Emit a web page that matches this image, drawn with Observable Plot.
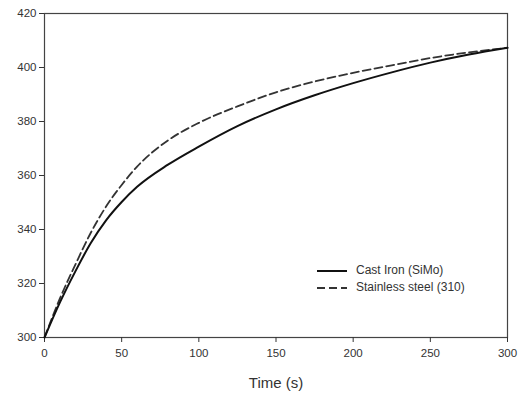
<!DOCTYPE html>
<html><head><meta charset="utf-8">
<script src="https://cdn.jsdelivr.net/npm/d3@7"></script>
<script src="https://cdn.jsdelivr.net/npm/@observablehq/plot@0.6"></script>
<style>
body{margin:0;background:#fff;font-family:"Liberation Sans",Arial,sans-serif}
#wrap{position:relative;width:519px;height:395px}
#legend{position:absolute;left:316px;top:262px;font-size:12px;color:#333;line-height:17px}
#legend div{display:flex;align-items:center;white-space:nowrap}
#legend svg{margin-right:8px}
</style>
</head><body><div id="wrap"></div>
<script>
const time      = [0, 10, 20, 30, 40, 50, 60, 80, 100, 125, 150, 175, 200, 225, 250, 275, 300];
const castIron  = [300, 313, 324.5, 335, 343.5, 350.2, 355.8, 364, 370.7, 378.3, 384.5, 389.7, 394.2, 398.2, 401.8, 404.8, 407.3];
const stainless = [300, 314.5, 327, 338.8, 348.6, 356.5, 363.3, 373, 379.5, 385.6, 390.8, 394.8, 398, 400.8, 403.5, 405.6, 407.3];
const seriesNames = ["Cast Iron (SiMo)", "Stainless steel (310)"];
const xTicks = [0, 50, 100, 150, 200, 250, 300];
const yTicks = [300, 320, 340, 360, 380, 400, 420];
const xLabel = "Time (s)";

const ironData = time.map((t, i) => ({t, v: castIron[i]}));
const steelData = time.map((t, i) => ({t, v: stainless[i]}));

const chart = Plot.plot({
  width: 519,
  height: 395,
  marginLeft: 44,
  marginRight: 12,
  marginTop: 13,
  marginBottom: 58,
  style: {fontFamily: '"Liberation Sans", Arial, sans-serif', color: "#333", background: "#fff"},
  x: {domain: [0, 300]},
  y: {domain: [300, 420]},
  marks: [
    Plot.frame({stroke: "#444", strokeWidth: 1.2}),
    Plot.axisX({ticks: xTicks, tickSize: 5, tickPadding: 6, fontSize: 11.5, label: xLabel, labelAnchor: "center", labelArrow: "none", labelOffset: 50}),
    Plot.axisY({ticks: yTicks, tickSize: 5, tickPadding: 3, fontSize: 11.5, label: null}),
    Plot.lineY(steelData, {x: "t", y: "v", stroke: "#333", strokeWidth: 1.8, strokeDasharray: "8,4", curve: "monotone-x"}),
    Plot.lineY(ironData, {x: "t", y: "v", stroke: "#111", strokeWidth: 2, curve: "monotone-x"})
  ]
});
chart.querySelectorAll("g[aria-label='x-axis label'] text").forEach(t => t.style.fontSize = "15px");
document.getElementById("wrap").appendChild(chart);

const legend = document.createElement("div");
legend.id = "legend";
const styles = [{dash: null, w: 2, c: "#111"}, {dash: "8,4", w: 1.8, c: "#333"}];
seriesNames.forEach((name, i) => {
  const row = document.createElement("div");
  const s = styles[i];
  row.innerHTML = `<svg width="32" height="8"><line x1="1" y1="4" x2="31" y2="4" stroke="${s.c}" stroke-width="${s.w}" ${s.dash ? `stroke-dasharray="${s.dash}"` : ""}/></svg><span>${name}</span>`;
  legend.appendChild(row);
});
document.getElementById("wrap").appendChild(legend);
</script>
</body></html>
